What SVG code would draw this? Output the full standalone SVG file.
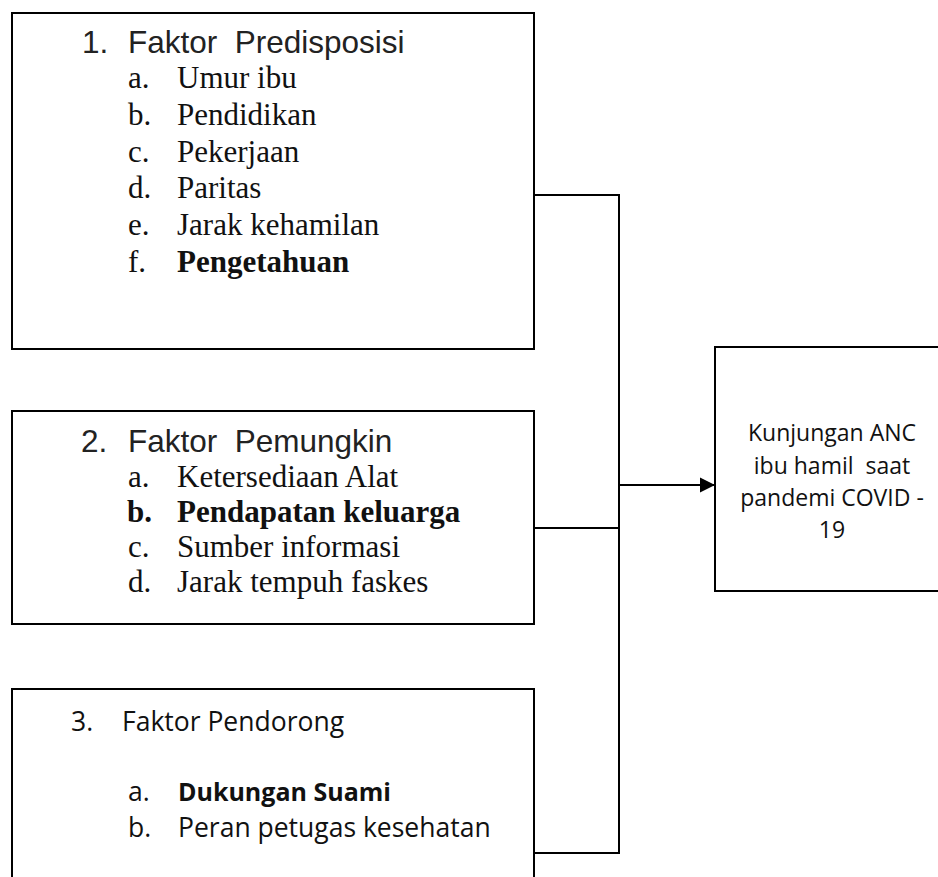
<svg xmlns="http://www.w3.org/2000/svg" width="938" height="877" viewBox="0 0 938 877">
  <defs>
    <marker id="arrow" markerWidth="16" markerHeight="16" refX="15" refY="8" orient="auto" markerUnits="userSpaceOnUse">
      <path d="M0,0.5 L15,8 L0,15.5 Z" fill="#000"/>
    </marker>
    <style>
      .box { fill: #fff; stroke: #000; stroke-width: 2; }
      .conn { fill: none; stroke: #000; stroke-width: 2; }
      .hd { font-family: "Liberation Sans", Arial, sans-serif; font-size: 31.5px; fill: #222; white-space: pre; }
      .it { font-family: "Liberation Serif", "Times New Roman", serif; font-size: 31px; fill: #111; white-space: pre; }
      .b { font-weight: bold; }
      .cal { font-family: "Open Sans", "Noto Sans", sans-serif; font-size: 26.5px; fill: #111; white-space: pre; }
      .calb { font-family: "Open Sans", "Noto Sans", sans-serif; font-size: 25px; font-weight: bold; fill: #111; white-space: pre; }
      .out { font-family: "Open Sans", "Noto Sans", sans-serif; font-size: 23px; fill: #111; text-anchor: middle; white-space: pre; }
    </style>
  </defs>
  <rect width="938" height="877" fill="#fff"/>

  <g id="connectors">
    <path class="conn" d="M534,195 H619 V853 H534"/>
    <path class="conn" d="M534,528 H619"/>
    <path class="conn" d="M619,485 H715" marker-end="url(#arrow)"/>
  </g>

  <g id="node-predisposisi">
    <rect class="box" x="12" y="13" width="522" height="336"/>
    <text class="hd" x="82" y="53">1.</text><text class="hd" x="128" y="53">Faktor  Predisposisi</text>
    <text class="it" x="128" y="88">a.</text><text class="it" x="177" y="88">Umur ibu</text>
    <text class="it" x="128" y="125">b.</text><text class="it" x="177" y="125">Pendidikan</text>
    <text class="it" x="128" y="162">c.</text><text class="it" x="177" y="162">Pekerjaan</text>
    <text class="it" x="128" y="198">d.</text><text class="it" x="177" y="198">Paritas</text>
    <text class="it" x="128" y="235">e.</text><text class="it" x="177" y="235">Jarak kehamilan</text>
    <text class="it" x="128" y="272">f.</text><text class="it b" x="177" y="272">Pengetahuan</text>
  </g>

  <g id="node-pemungkin">
    <rect class="box" x="12" y="411" width="522" height="213"/>
    <text class="hd" x="81" y="452">2.</text><text class="hd" x="128" y="452">Faktor  Pemungkin</text>
    <text class="it" x="128" y="487">a.</text><text class="it" x="177" y="487">Ketersediaan Alat</text>
    <text class="it b" x="127" y="522">b.</text><text class="it b" x="177" y="522">Pendapatan keluarga</text>
    <text class="it" x="128" y="557">c.</text><text class="it" x="177" y="557">Sumber informasi</text>
    <text class="it" x="128" y="592">d.</text><text class="it" x="177" y="592">Jarak tempuh faskes</text>
  </g>

  <g id="node-pendorong">
    <rect class="box" x="12" y="689" width="522" height="200"/>
    <text class="cal" x="71" y="731">3.</text><text class="cal" x="122" y="731">Faktor Pendorong</text>
    <text class="cal" x="128" y="801">a.</text><text class="calb" x="178" y="801">Dukungan Suami</text>
    <text class="cal" x="128" y="837">b.</text><text class="cal" x="178" y="837">Peran petugas kesehatan</text>
  </g>

  <g id="node-kunjungan">
    <rect class="box" x="715" y="347" width="240" height="244"/>
    <text class="out" x="832" y="441">Kunjungan ANC</text>
    <text class="out" x="832" y="474">ibu hamil  saat</text>
    <text class="out" x="832" y="506">pandemi COVID -</text>
    <text class="out" x="832" y="538">19</text>
  </g>
</svg>
